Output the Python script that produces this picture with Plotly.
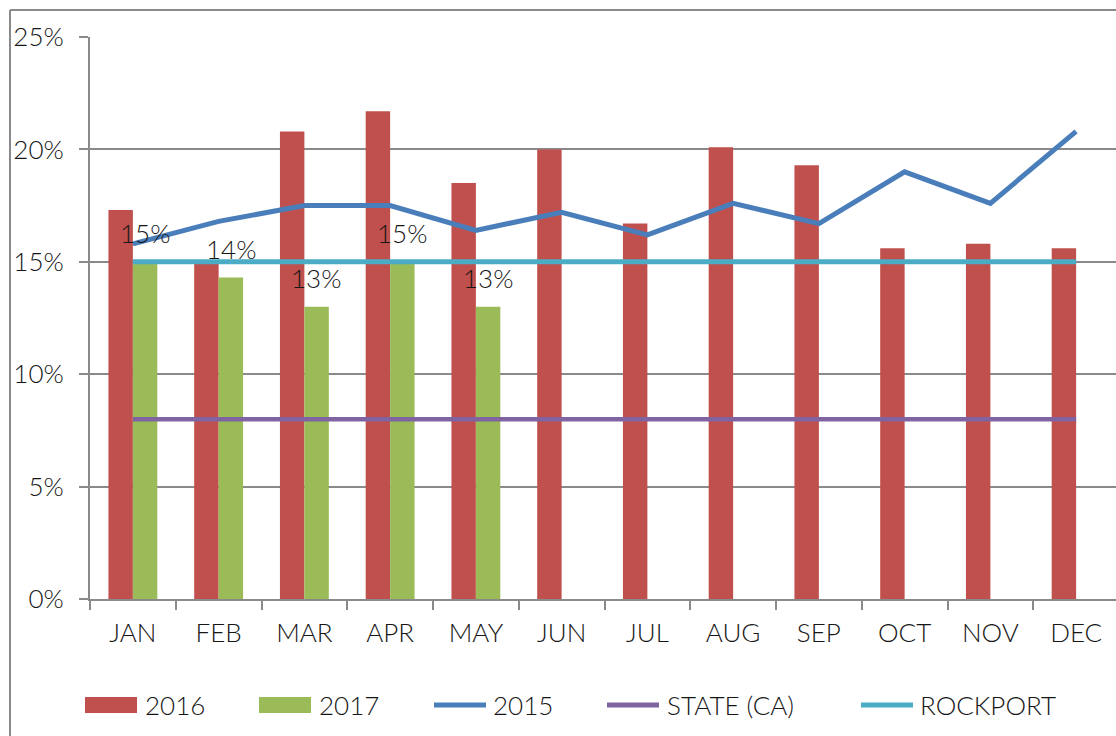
import plotly.graph_objects as go

months = ["JAN", "FEB", "MAR", "APR", "MAY", "JUN", "JUL", "AUG", "SEP", "OCT", "NOV", "DEC"]
y2016 = [17.3, 14.9, 20.8, 21.7, 18.5, 20.0, 16.7, 20.1, 19.3, 15.6, 15.8, 15.6]
months_2017 = ["JAN", "FEB", "MAR", "APR", "MAY"]
y2017 = [15.0, 14.3, 13.0, 15.0, 13.0]
labels_2017 = ["15%", "14%", "13%", "15%", "13%"]
y2015 = [15.8, 16.8, 17.5, 17.5, 16.4, 17.2, 16.2, 17.6, 16.7, 19.0, 17.6, 20.8]
state_ca = [8.0] * 12
rockport = [15.0] * 12
ytick_vals = [0, 5, 10, 15, 20, 25]
ytick_text = ["0%", "5%", "10%", "15%", "20%", "25%"]

FONT = "Lato"
TXT = "#161616"
GRID = "#8a8a8a"
C2016 = "#C0504D"
C2017 = "#9BBB59"
C2015 = "#4A7EBB"
CSTATE = "#8064A2"
CROCK = "#4BACC6"

W, H = 1116, 736
ML, MR, MT, MB = 90, 0, 37, 137
PW, PH = W - ML - MR, H - MT - MB


def px(x):
    return (x - ML) / PW


def py(y):
    return (H - MB - y) / PH


fig = go.Figure()
fig.add_trace(go.Bar(x=months, y=y2016, name="2016", marker=dict(color=C2016, line=dict(width=0))))
fig.add_trace(go.Bar(x=months_2017, y=y2017, name="2017", marker=dict(color=C2017, line=dict(width=0))))
fig.add_trace(go.Scatter(x=months, y=y2015, name="2015", mode="lines",
                         line=dict(color=C2015, width=5)))
fig.add_trace(go.Scatter(x=months, y=state_ca, name="STATE (CA)", mode="lines",
                         line=dict(color=CSTATE, width=4.5)))
fig.add_trace(go.Scatter(x=months, y=rockport, name="ROCKPORT", mode="lines",
                         line=dict(color=CROCK, width=5)))

annotations = []
for m, v, t in zip(months_2017, y2017, labels_2017):
    annotations.append(dict(x=m, y=v, xref="x", yref="y", text=t, showarrow=False,
                            xanchor="center", yanchor="bottom", xshift=12, yshift=11,
                            font=dict(family=FONT, size=26, color=TXT, weight=300)))

shapes = [
    # outer frame
    dict(type="line", xref="paper", yref="paper", x0=px(10), x1=px(10), y0=py(10), y1=py(760),
         line=dict(color=GRID, width=2)),
    dict(type="line", xref="paper", yref="paper", x0=px(10), x1=px(1130), y0=py(10), y1=py(10),
         line=dict(color=GRID, width=2)),
]

# manual legend
legend_items = [
    ("2016", "rect", C2016, 85, 137, 143),
    ("2017", "rect", C2017, 259, 311, 317),
    ("2015", "line", C2015, 434, 486, 491),
    ("STATE (CA)", "line", CSTATE, 607, 659, 665),
    ("ROCKPORT", "line", CROCK, 861, 913, 918),
]
LY = 705
for name, kind, col, x0, x1, tx in legend_items:
    if kind == "rect":
        shapes.append(dict(type="rect", xref="paper", yref="paper", x0=px(x0), x1=px(x1),
                           y0=py(LY + 8), y1=py(LY - 8), fillcolor=col, line=dict(width=0)))
    else:
        shapes.append(dict(type="line", xref="paper", yref="paper", x0=px(x0), x1=px(x1),
                           y0=py(LY), y1=py(LY), line=dict(color=col, width=5)))
    annotations.append(dict(x=px(tx), y=py(LY), xref="paper", yref="paper", text=name,
                            showarrow=False, xanchor="left", yanchor="middle",
                            font=dict(family=FONT, size=26, color=TXT, weight=300)))

fig.update_layout(
    width=W, height=H,
    margin=dict(l=ML, r=MR, t=MT, b=MB, pad=0),
    paper_bgcolor="white", plot_bgcolor="white",
    barmode="group", bargap=0.43, bargroupgap=0,
    showlegend=False,
    font=dict(family=FONT, size=26, color=TXT, weight=300),
    annotations=annotations,
    shapes=shapes,
)
fig.update_xaxes(
    type="category", categoryorder="array", categoryarray=months,
    range=[-0.5, 11.465],
    showgrid=False, showline=True, linecolor=GRID, linewidth=2,
    ticks="outside", tickson="boundaries", ticklen=9, tickwidth=2, tickcolor=GRID,
    tickfont=dict(family=FONT, size=26, color=TXT, weight=300), ticklabelstandoff=10,
)
fig.update_yaxes(
    range=[0, 25], tickvals=ytick_vals, ticktext=ytick_text,
    showgrid=True, gridcolor=GRID, gridwidth=2,
    showline=True, linecolor=GRID, linewidth=2,
    ticks="outside", ticklen=9, tickwidth=2, tickcolor=GRID,
    tickfont=dict(family=FONT, size=26, color=TXT, weight=300), ticklabelstandoff=10,
    zeroline=False,
)

fig.write_html("out.html", config={"displayModeBar": False},
               post_script="document.body.style.margin='0';document.body.style.overflow='hidden';")
